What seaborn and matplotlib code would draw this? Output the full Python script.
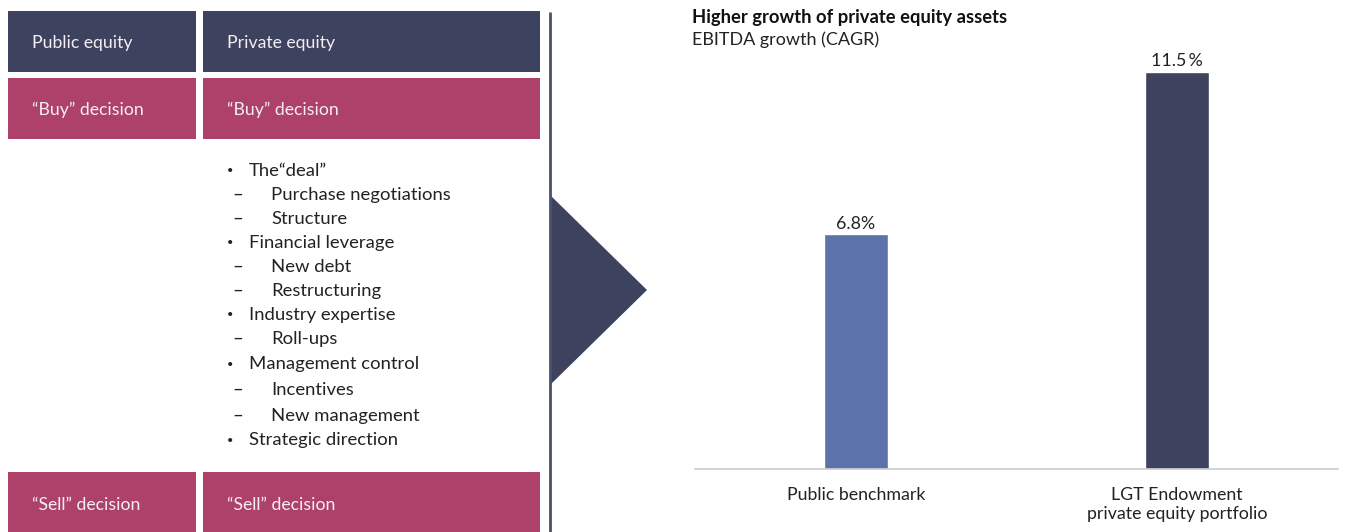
import matplotlib
matplotlib.use("Agg")
import matplotlib.pyplot as plt
from matplotlib.patches import Rectangle, Polygon
import seaborn as sns
import pandas as pd

# Data
categories = ["Public benchmark", "LGT Endowment\nprivate equity portfolio"]
cagr = [6.8, 11.5]
value_labels = ["6.8%", "11.5\u2009%"]
bar_colors = ["#5b73aa", "#3d425f"]

header_labels = ["Public equity", "Private equity"]
buy_labels = ["\u201cBuy\u201d decision", "\u201cBuy\u201d decision"]
sell_labels = ["\u201cSell\u201d decision", "\u201cSell\u201d decision"]
value_drivers = [
    (0, "The\u201cdeal\u201d"),
    (1, "Purchase negotiations"),
    (1, "Structure"),
    (0, "Financial leverage"),
    (1, "New debt"),
    (1, "Restructuring"),
    (0, "Industry expertise"),
    (1, "Roll-ups"),
    (0, "Management control"),
    (1, "Incentives"),
    (1, "New management"),
    (0, "Strategic direction"),
]

sns.set_theme(style="white")
plt.rcParams["font.family"] = ["Lato", "DejaVu Sans"]

NAVY = "#3d425f"
BERRY = "#ad416a"
TEXT = "#222222"

W, H = 1345, 532
fig = plt.figure(figsize=(W / 100, H / 100), dpi=100)

# Canvas in pixel coordinates for the left-hand diagram
canvas = fig.add_axes([0, 0, 1, 1], zorder=0)
canvas.set_xlim(0, W)
canvas.set_ylim(H, 0)
canvas.axis("off")

cols = [(8, 196), (203, 540)]
rows = [(11, 72, 43, NAVY, header_labels),
        (78, 139, 110, BERRY, buy_labels),
        (472, 540, 505, BERRY, sell_labels)]
for y0, y1, yt, color, labels in rows:
    for (x0, x1), lab in zip(cols, labels):
        canvas.add_patch(Rectangle((x0, y0), x1 - x0, y1 - y0, facecolor=color, edgecolor="none"))
        canvas.text(x0 + 24, yt, lab, color="#f4eef2", fontsize=12.7, va="center", ha="left")

# Bullet list of value drivers
line_y = [171, 195, 219, 243, 267, 291, 315, 339, 364, 390, 416, 440]
for (level, txt), y in zip(value_drivers, line_y):
    if level == 0:
        canvas.text(230, y, "\u2022", fontsize=8, va="center", ha="center", color=TEXT)
        canvas.text(249, y, txt, fontsize=13.3, va="center", ha="left", color=TEXT)
    else:
        canvas.text(238, y - 1, "\u2013", fontsize=13.5, va="center", ha="center", color=TEXT)
        canvas.text(271, y, txt, fontsize=13.3, va="center", ha="left", color=TEXT)

# Divider and arrow
canvas.plot([550, 550], [12, 532], color="#4a5070", lw=2, solid_capstyle="butt")
canvas.add_patch(Polygon([(550, 195), (647, 290), (550, 385)], closed=True,
                         facecolor=NAVY, edgecolor="none"))

# Chart title
canvas.text(692, 18, "Higher growth of private equity assets", fontsize=13.2, fontweight="bold",
            va="center", ha="left", color="#111111")
canvas.text(692, 40, "EBITDA growth (CAGR)", fontsize=13, va="center", ha="left", color=TEXT)

# Bar chart
x0, x1 = 695, 1338
y_base, y_top = 469, 40
ax = fig.add_axes([x0 / W, (H - y_base) / H, (x1 - x0) / W, (y_base - y_top) / H], zorder=1)
ax.patch.set_alpha(0)
df = pd.DataFrame({"category": categories, "cagr": cagr})
sns.barplot(data=df, x="category", y="cagr", hue="category", palette=bar_colors,
            width=0.2, legend=False, ax=ax, saturation=1)
ax.set_xlim(-0.5, 1.5)
ax.set_ylim(0, (y_base - y_top) / 34.5)
for i, (v, lab) in enumerate(zip(cagr, value_labels)):
    ax.text(i, v + 0.08, lab, ha="center", va="bottom", fontsize=12.8, color=TEXT)
ax.set_xlabel("")
ax.set_ylabel("")
ax.set_yticks([])
ax.tick_params(axis="x", length=0, pad=13, labelsize=12.8, labelcolor=TEXT)
for s in ["top", "right", "left"]:
    ax.spines[s].set_visible(False)
ax.spines["bottom"].set_color("#cccccc")
ax.spines["bottom"].set_linewidth(1.2)

fig.savefig("out.png", dpi=100)
